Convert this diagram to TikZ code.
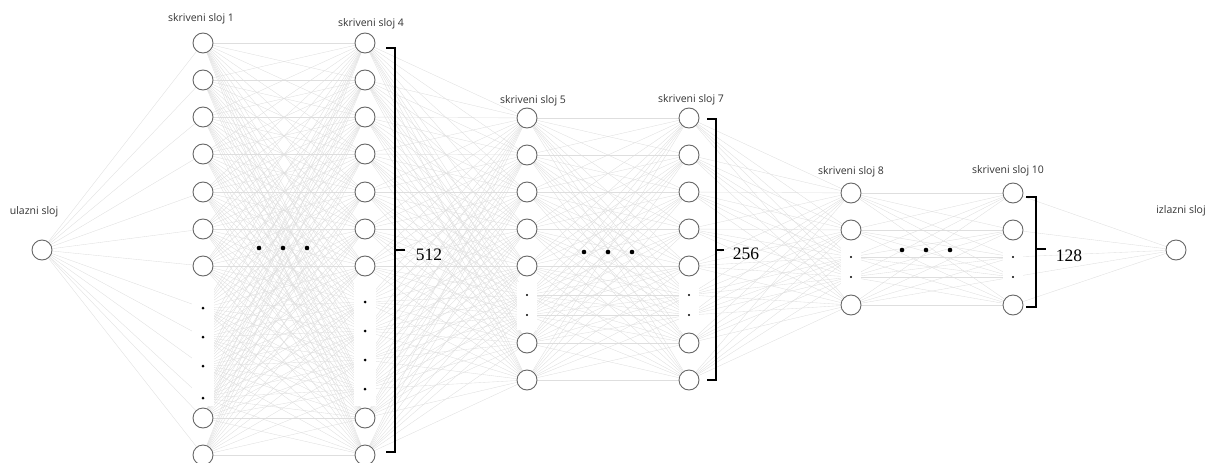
\documentclass[tikz,border=0pt]{standalone}
\usepackage{fontspec}
\newfontfamily\lab{Open Sans}
\newfontfamily\num{Liberation Serif}
\usetikzlibrary{backgrounds}
\tikzset{
  neuron/.style={circle, draw=black!60, line width=0.9pt, fill=white, minimum size=20pt, inner sep=0pt},
  edge/.style={draw=black!13, line width=0.35pt},
  lbl/.style={font=\lab\fontsize{10.5}{11}\selectfont, text=black!80, inner sep=1pt},
  brk/.style={line width=1.2pt, line cap=rect},
  cnt/.style={font=\num\fontsize{17.5}{18}\selectfont, inner sep=0pt},
  mask/.style={fill=white},
  hdot/.style={fill=black},
}
\begin{document}
\begin{tikzpicture}[x=1pt,y=-1pt]
\useasboundingbox (0,0) rectangle (1205,463);
% input / output
\node[neuron] (in) at (42,250) {};
\node[neuron] (out) at (1176,250) {};
% layer 1
\foreach \y [count=\i] in {43,80,117,154,192,229,266,418,455} \node[neuron] (a\i) at (203,\y) {};
\foreach \y [count=\i] in {308,337,366,398} \coordinate (ad\i) at (203,\y);
% layer 4
\foreach \y [count=\i] in {43,80,117,154,192,229,266,418,455} \node[neuron] (b\i) at (365,\y) {};
\foreach \y [count=\i] in {302,331,360,389} \coordinate (bd\i) at (365,\y);
% layer 5
\foreach \y [count=\i] in {118,155,192,229,266,343,380} \node[neuron] (c\i) at (527,\y) {};
\foreach \y [count=\i] in {295,315} \coordinate (cd\i) at (527,\y);
% layer 7
\foreach \y [count=\i] in {118,155,192,229,266,343,380} \node[neuron] (d\i) at (689,\y) {};
\foreach \y [count=\i] in {295,315} \coordinate (dd\i) at (689,\y);
% layer 8
\foreach \y [count=\i] in {193,230,305} \node[neuron] (e\i) at (851,\y) {};
\foreach \y [count=\i] in {257,277} \coordinate (ed\i) at (851,\y);
% layer 10
\foreach \y [count=\i] in {193,230,305} \node[neuron] (f\i) at (1013,\y) {};
\foreach \y [count=\i] in {257,277} \coordinate (fd\i) at (1013,\y);

\def\LA{a1,a2,a3,a4,a5,a6,a7,a8,a9,ad1,ad2,ad3,ad4}
\def\LB{b1,b2,b3,b4,b5,b6,b7,b8,b9,bd1,bd2,bd3,bd4}
\def\LC{c1,c2,c3,c4,c5,c6,c7,cd1,cd2}
\def\LD{d1,d2,d3,d4,d5,d6,d7,dd1,dd2}
\def\LE{e1,e2,e3,ed1,ed2}
\def\LF{f1,f2,f3,fd1,fd2}

\begin{pgfonlayer}{background}
\foreach \t in \LA \draw[edge] (in) -- (\t);
\foreach \s in \LA \foreach \t in \LB \draw[edge] (\s) -- (\t);
\foreach \s in \LB \foreach \t in \LC \draw[edge] (\s) -- (\t);
\foreach \s in \LC \foreach \t in \LD \draw[edge] (\s) -- (\t);
\foreach \s in \LD \foreach \t in \LE \draw[edge] (\s) -- (\t);
\foreach \s in \LE \foreach \t in \LF \draw[edge] (\s) -- (\t);
\foreach \s in \LF \draw[edge] (\s) -- (out);
\end{pgfonlayer}

% masks behind vertical dots
\fill[mask] (192,283) rectangle (214,406);
\fill[mask] (354,283) rectangle (376,406);
\fill[mask] (517,282) rectangle (537,330);
\fill[mask] (679,282) rectangle (699,330);
\fill[mask] (841,246) rectangle (861,292);
\fill[mask] (1003,246) rectangle (1023,292);
% vertical dots
\foreach \n in {ad1,ad2,ad3,ad4,bd1,bd2,bd3,bd4} \fill[hdot] (\n) circle (1.5);
\foreach \n in {cd1,cd2,dd1,dd2,ed1,ed2,fd1,fd2} \fill[hdot] (\n) circle (1.1);
% horizontal dots
\foreach \x in {259,283,307} \fill[hdot] (\x,248) circle (2.3);
\foreach \x in {584,608,632} \fill[hdot] (\x,252) circle (2.3);
\foreach \x in {902,926,950} \fill[hdot] (\x,250) circle (2.3);

% labels
\node[lbl] (l0) at (34,212) {ulazni sloj};
\node[lbl] (l1) at (201,19) {skriveni sloj 1};
\node[lbl] (l4) at (371,24) {skriveni sloj 4};
\node[lbl] (l5) at (533,101) {skriveni sloj 5};
\node[lbl] (l7) at (691,100) {skriveni sloj 7};
\node[lbl] (l8) at (851,172) {skriveni sloj 8};
\node[lbl] (l10) at (1008,171) {skriveni sloj 10};
\node[lbl] (lo) at (1181,211) {izlazni sloj};

% brackets
\draw[brk] (387,48) -- (395,48) -- (395,452) -- (387,452);
\draw[brk] (395,250) -- (404,250);
\node[cnt] (n512) at (429,255) {512};
\draw[brk] (708,119) -- (716,119) -- (716,380) -- (708,380);
\draw[brk] (716,250) -- (723,250);
\node[cnt] (n256) at (746,254) {256};
\draw[brk] (1027,197) -- (1036,197) -- (1036,307) -- (1027,307);
\draw[brk] (1036,249) -- (1045,249);
\node[cnt] (n128) at (1069,256) {128};
\end{tikzpicture}
\end{document}
